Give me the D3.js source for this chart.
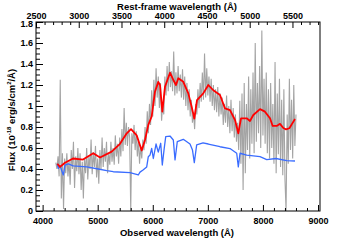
<!DOCTYPE html>
<html><head><meta charset="utf-8">
<script src="https://cdn.jsdelivr.net/npm/d3@7"></script>
<style>body{margin:0;background:#fff}svg{display:block}text{font-family:"Liberation Sans",Arial,sans-serif;font-weight:bold}</style>
</head><body>
<script>
// ---- data ----
const obsTicks = [4000, 5000, 6000, 7000, 8000, 9000];
const restTicks = [2500, 3000, 3500, 4000, 4500, 5000, 5500];
const yTicks = [0, 0.2, 0.4, 0.6, 0.8, 1, 1.2, 1.4, 1.6, 1.8];
const yTickLabels = ["0", "0.2", "0.4", "0.6", "0.8", "1", "1.2", "1.4", "1.6", "1.8"];

// observed spectrum (gray)
const grayWave = [
4240,4260,4280,4300,4320,4340,4360,4380,4400,4420,
4440,4460,4480,4500,4520,4540,4560,4580,4600,4620,
4640,4660,4680,4700,4720,4740,4760,4780,4800,4820,
4840,4860,4880,4900,4920,4940,4960,4980,5000,5020,
5040,5060,5080,5100,5120,5140,5160,5180,5200,5220,
5240,5260,5280,5300,5320,5340,5360,5380,5400,5420,
5440,5460,5480,5500,5520,5540,5560,5580,5600,5620,
5640,5660,5680,5700,5720,5740,5760,5780,5800,5820,
5840,5860,5880,5900,5920,5940,5960,5980,6000,6020,
6040,6060,6080,6100,6120,6140,6160,6180,6200,6220,
6240,6260,6280,6300,6320,6340,6360,6380,6400,6420,
6440,6460,6480,6500,6520,6540,6560,6580,6600,6620,
6640,6660,6680,6700,6720,6740,6760,6780,6800,6820,
6840,6860,6880,6900,6920,6940,6960,6980,7000,7020,
7040,7060,7080,7100,7120,7140,7160,7180,7200,7220,
7240,7260,7280,7300,7320,7340,7360,7380,7400,7420,
7440,7460,7480,7500,7520,7540,7560,7580,7600,7620,
7640,7660,7680,7700,7720,7740,7760,7780,7800,7820,
7840,7860,7880,7900,7920,7940,7960,7980,8000,8020,
8040,8060,8080,8100,8120,8140,8160,8180,8200,8220,
8240,8260,8280,8300,8320,8340,8360,8380,8400,8420,
8440,8460,8480,8500,8520,8540,8560,8580,8600];
const grayFlux = [
0.46,0.40,0.52,0.33,1.25,0.12,0.55,0.02,0.50,0.36,
0.55,0.33,0.48,0.25,0.58,0.40,0.66,0.22,0.52,0.38,
0.60,0.35,0.55,0.20,0.47,0.12,0.50,0.36,0.60,0.30,
0.52,0.40,0.68,0.35,0.56,0.42,0.62,0.32,0.50,0.26,
0.58,0.40,0.70,0.42,0.60,0.47,0.66,0.36,0.55,0.44,
0.66,0.47,0.60,0.44,0.72,0.52,0.64,0.45,0.70,0.52,
0.78,0.57,0.98,0.63,0.84,0.62,0.80,0.70,0.00,0.74,
0.64,0.82,0.58,0.76,0.52,0.68,0.45,0.62,0.50,0.68,
0.58,0.80,0.64,0.95,0.74,1.02,0.82,1.15,0.90,1.25,
1.00,1.36,1.08,1.28,0.98,1.22,0.86,1.02,0.92,1.28,
1.10,1.38,1.14,1.42,1.18,1.33,1.14,1.52,1.10,1.32,
1.12,1.38,1.14,1.30,1.08,1.35,1.06,1.28,1.00,1.22,
0.96,1.16,0.90,1.06,0.84,0.94,0.78,1.02,0.92,1.16,
0.98,1.22,1.04,1.32,1.06,1.50,1.08,1.36,1.10,1.28,
1.04,1.26,1.00,1.20,0.96,1.16,0.94,1.18,0.90,1.12,
0.92,1.08,0.82,1.02,0.84,1.10,0.80,1.00,0.74,1.06,
0.76,0.98,0.70,0.92,0.66,0.84,0.58,1.05,0.45,1.12,
0.20,1.22,0.36,1.02,0.58,1.28,0.50,1.16,0.64,1.32,
0.55,1.60,0.66,1.22,0.74,1.38,0.60,1.72,0.72,1.26,
0.64,1.32,0.55,1.16,0.50,1.22,0.60,1.02,0.45,1.42,
0.36,1.12,0.54,1.26,0.42,1.06,0.34,1.16,0.30,0.00,
0.92,0.45,1.26,0.58,1.06,0.50,1.20,0.62,0.92];

// model 1 (red)
const redWave = [4267,4316,4406,4552,4733,4920,5042,5254,5405,5527,5605,5708,5799,5859,5919,5980,6040,6100,6131,6173,6222,6313,6373,6422,6463,6554,6645,6707,6754,6803,6917,7008,7099,7220,7311,7402,7493,7553,7602,7705,7765,7825,7947,8037,8128,8177,8250,8310,8370,8419,8479,8528,8582];
const redFlux = [0.45,0.42,0.46,0.50,0.49,0.55,0.51,0.565,0.64,0.74,0.78,0.72,0.576,0.676,0.82,0.90,1.136,1.23,1.20,0.946,1.184,1.317,1.248,1.20,1.264,1.23,1.12,0.99,0.88,1.057,1.12,1.20,1.15,1.105,0.978,0.96,0.867,0.74,0.883,0.883,0.857,0.914,0.97,0.946,0.883,0.81,0.81,0.83,0.79,0.778,0.788,0.83,0.876];

// model 2 (blue)
const blueWave = [4267,4285,4316,4376,4406,4466,4557,4800,5011,5164,5283,5587,5737,5768,5823,5890,5919,5950,5980,6010,6059,6100,6144,6173,6204,6235,6313,6373,6404,6445,6554,6676,6721,6754,6797,6912,7008,7220,7402,7524,7553,7584,7705,7947,8069,8237,8431,8582];
const blueFlux = [0.448,0.407,0.43,0.343,0.438,0.448,0.43,0.42,0.40,0.384,0.374,0.365,0.343,0.37,0.39,0.42,0.517,0.533,0.597,0.50,0.638,0.56,0.645,0.438,0.58,0.708,0.714,0.676,0.486,0.66,0.683,0.638,0.58,0.46,0.629,0.648,0.638,0.612,0.595,0.55,0.42,0.55,0.533,0.517,0.49,0.50,0.479,0.476];

// ---- chart ----
const W = 355, H = 240;
const L = 36, R = 320, T = 22, B = 211;
const svg = d3.select("body").append("svg").attr("width", W).attr("height", H);

const x = d3.scaleLinear().domain([3880, 9036]).range([L, R]);
const xRest = d3.scaleLinear().domain([3880 / 1.552, 9036 / 1.552]).range([L, R]);
const y = d3.scaleLinear().domain([0, 1.8]).range([B, T]);

svg.append("clipPath").attr("id", "c").append("rect")
  .attr("x", L).attr("y", T).attr("width", R - L).attr("height", B - T);

const line = d3.line().x(d => x(d[0])).y(d => y(d[1]));
const g = svg.append("g").attr("clip-path", "url(#c)");
g.append("path").datum(d3.zip(grayWave, grayFlux)).attr("d", line)
  .attr("fill", "none").attr("stroke", "#a4a4a4").attr("stroke-width", 1.1);
g.append("path").datum(d3.zip(blueWave, blueFlux)).attr("d", line)
  .attr("fill", "none").attr("stroke", "#3a6cff").attr("stroke-width", 1.3).attr("stroke-linejoin", "round");
g.append("path").datum(d3.zip(redWave, redFlux)).attr("d", line)
  .attr("fill", "none").attr("stroke", "#ff0000").attr("stroke-width", 1.8).attr("stroke-linejoin", "round");

// minor ticks
const obsMinor = d3.range(4000, 9001, 200).filter(v => v % 1000 !== 0);
const restMinor = d3.range(2500, 5801, 100).filter(v => v % 500 !== 0);
const yMinor = d3.range(0, 1.8001, 0.05).filter(v => Math.abs(v / 0.2 - Math.round(v / 0.2)) > 1e-6);

function style(sel) {
  sel.select(".domain").remove();
  sel.selectAll("line").attr("stroke", "#000").attr("stroke-width", 1);
  sel.selectAll("text").attr("fill", "#000").attr("font-size", 9).attr("font-family", null);
}

svg.append("g").attr("transform", `translate(0,${B})`)
  .call(d3.axisBottom(x).tickValues(obsMinor).tickSize(-3).tickFormat("")).call(style);
svg.append("g").attr("transform", `translate(0,${B})`)
  .call(d3.axisBottom(x).tickValues(obsTicks).tickSize(-6).tickPadding(7).tickFormat(d3.format("d"))).call(style);

svg.append("g").attr("transform", `translate(0,${T})`)
  .call(d3.axisTop(xRest).tickValues(restMinor).tickSize(-3).tickFormat("")).call(style);
svg.append("g").attr("transform", `translate(0,${T})`)
  .call(d3.axisTop(xRest).tickValues(restTicks).tickSize(-6).tickPadding(3.5).tickFormat(d3.format("d"))).call(style);

const yAx = svg.append("g").attr("transform", `translate(${L},0)`);
svg.append("g").attr("transform", `translate(${L},0)`)
  .call(d3.axisLeft(y).tickValues(yMinor).tickSize(-4).tickFormat("")).call(style);
yAx.call(d3.axisLeft(y).tickValues(yTicks).tickSize(-7).tickPadding(3).tickFormat((d, i) => yTickLabels[i])).call(style);
// top label sits in the corner just under the rest-frame tick labels
yAx.selectAll(".tick text").filter(d => d === 1.8).attr("dy", "0.55em");

svg.append("rect").attr("x", L).attr("y", T).attr("width", R - L).attr("height", B - T)
  .attr("fill", "none").attr("stroke", "#000").attr("stroke-width", 1);

// titles
svg.append("text").attr("x", 177).attr("y", 236).attr("text-anchor", "middle")
  .attr("font-size", 9.5).text("Observed wavelength (Å)");
svg.append("text").attr("x", 177).attr("y", 9.5).attr("text-anchor", "middle")
  .attr("font-size", 9.5).text("Rest-frame wavelength (Å)");
const yl = svg.append("text").attr("transform", "translate(15,120) rotate(-90)")
  .attr("text-anchor", "middle").attr("font-size", 9.5);
yl.append("tspan").text("Flux (10");
yl.append("tspan").attr("font-size", 6).attr("dy", -4).text("-18");
yl.append("tspan").attr("dy", 4).text(" erg/s/cm");
yl.append("tspan").attr("font-size", 6).attr("dy", -4).text("2");
yl.append("tspan").attr("dy", 4).text("/Å)");
</script>
</body></html>
